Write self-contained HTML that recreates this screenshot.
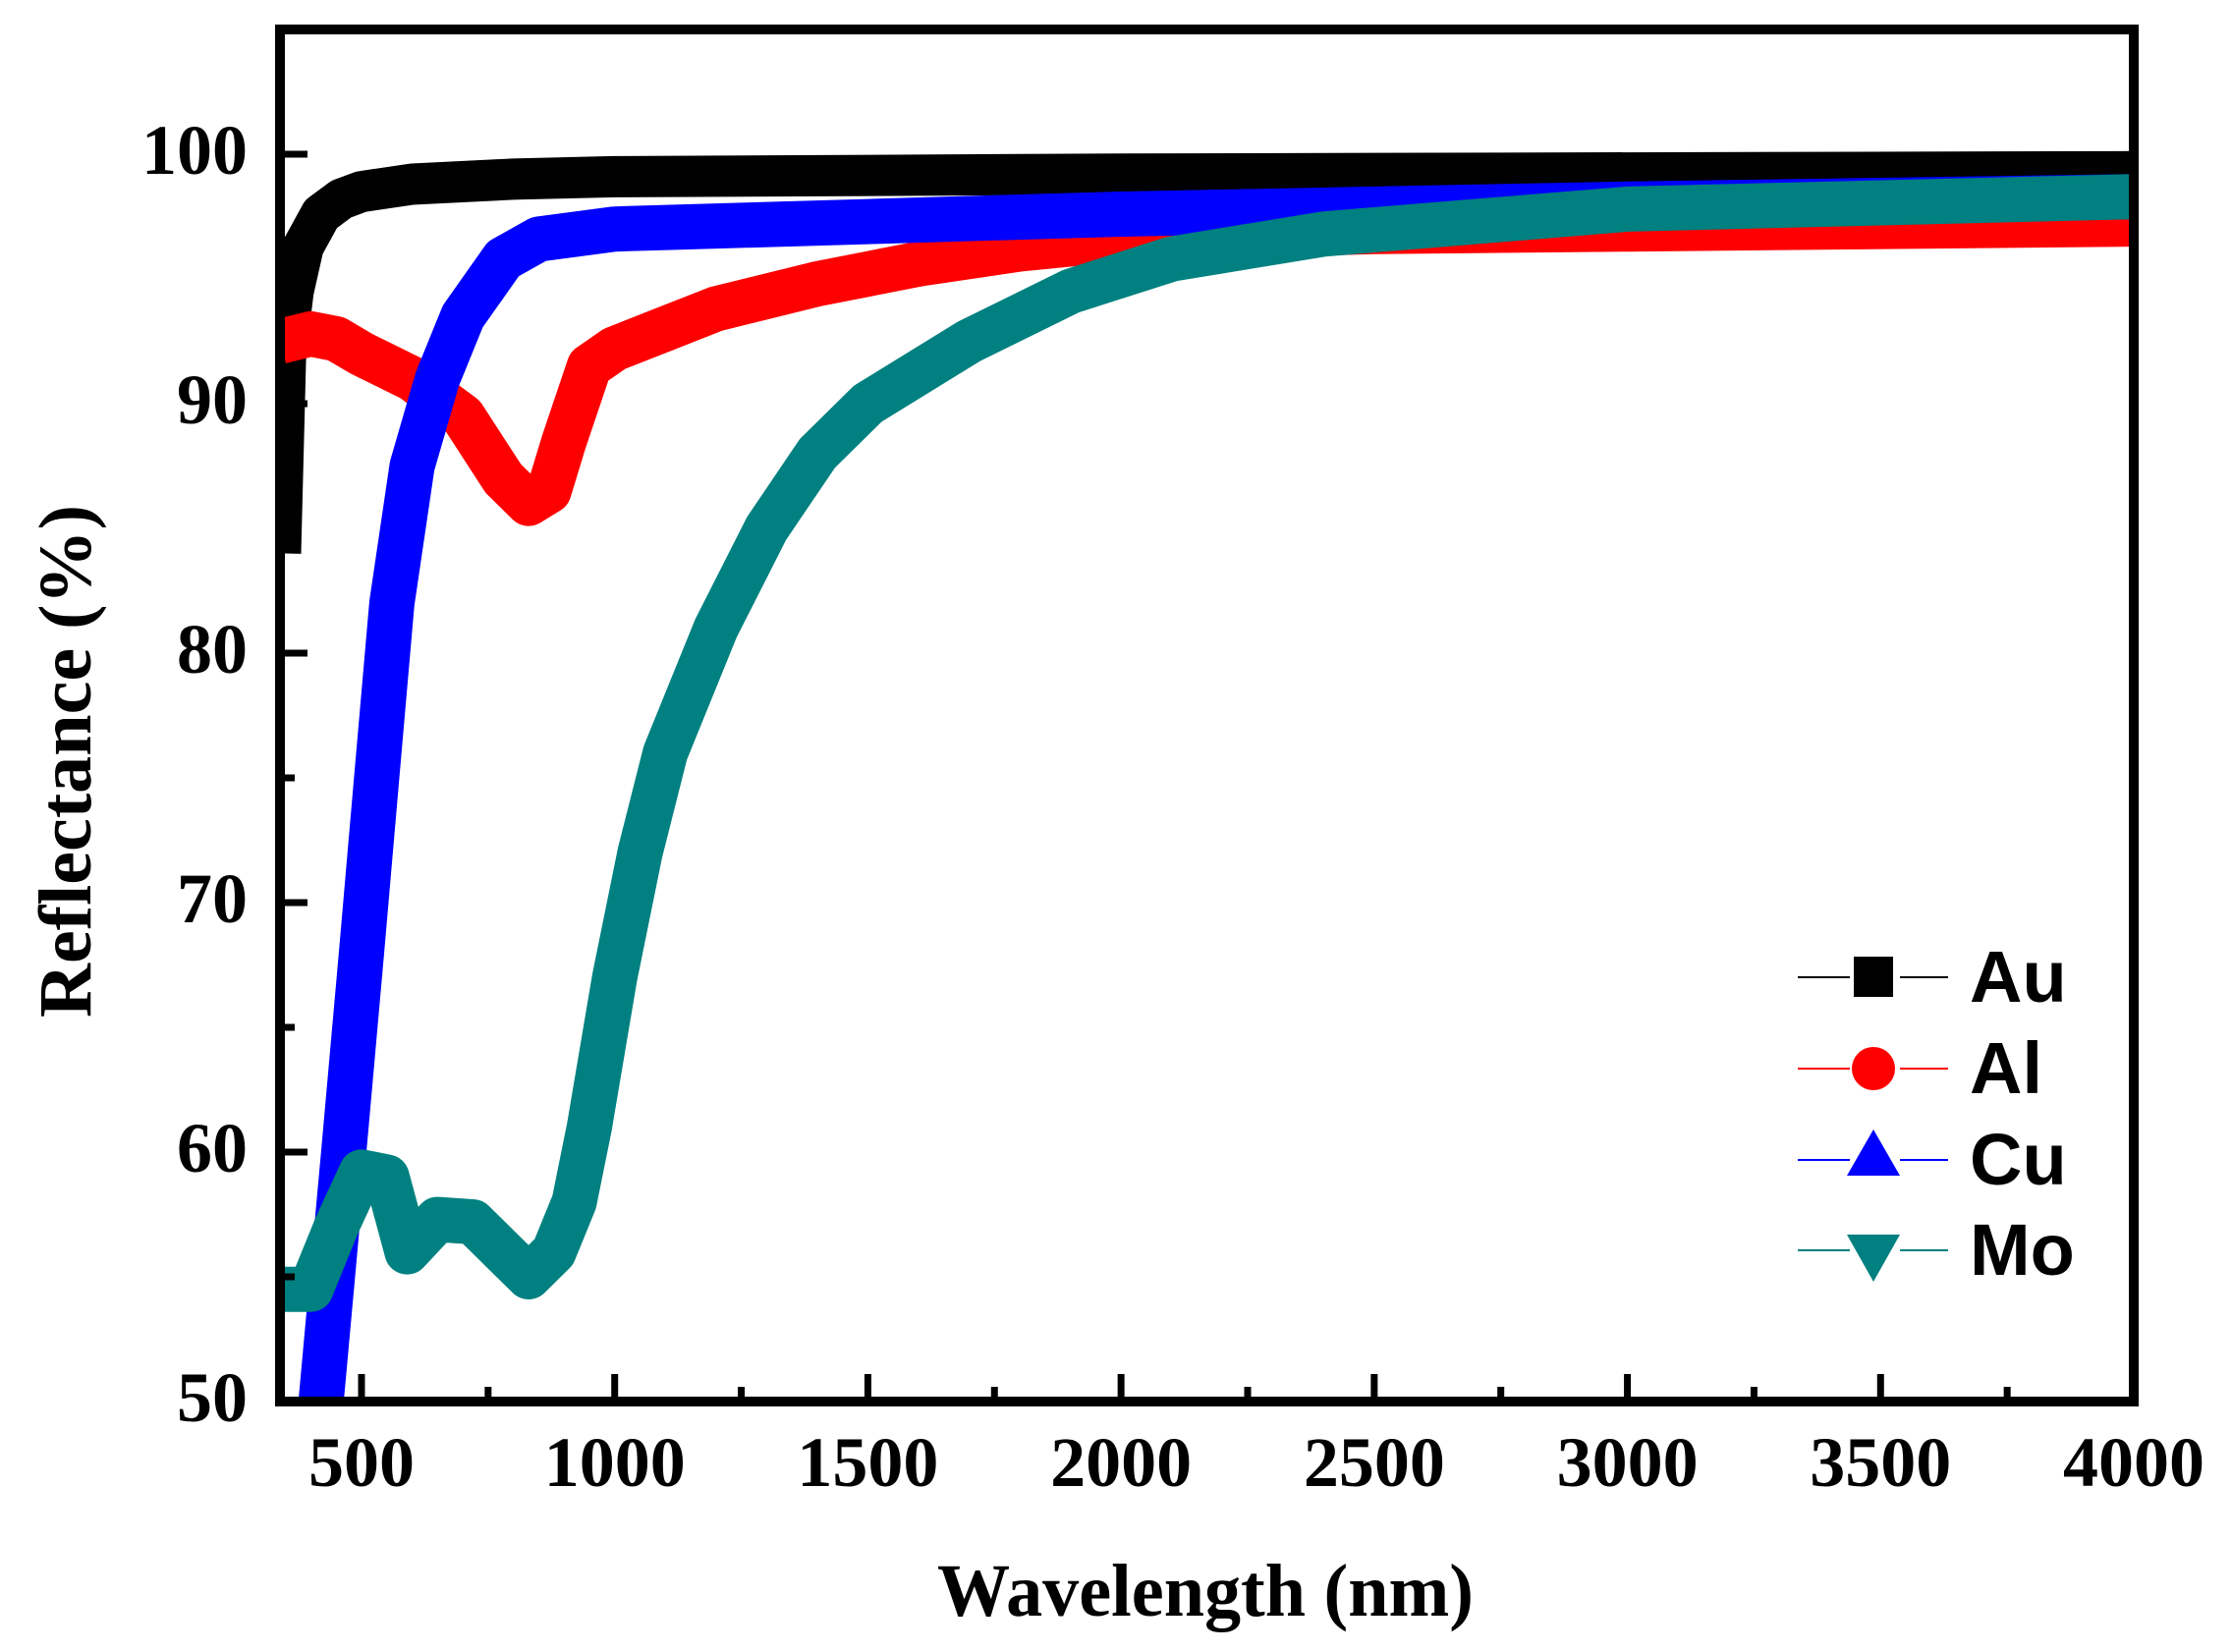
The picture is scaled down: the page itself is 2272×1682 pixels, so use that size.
<!DOCTYPE html>
<html><head><meta charset="utf-8"><style>
html,body{margin:0;padding:0;background:#fff}
svg{display:block}
.tick{font-family:"Liberation Serif",serif;font-weight:bold;font-size:72px;fill:#000}
.leg{font-family:"Liberation Sans",sans-serif;font-weight:bold;font-size:74px;fill:#000}
</style></head><body>
<svg id="chart" width="2272" height="1682" viewBox="0 0 2272 1682" xmlns="http://www.w3.org/2000/svg">
<rect width="2272" height="1682" fill="#fff"/>
<g id="series"></g>
<g id="axes"></g>
<text x="1227" y="1645" text-anchor="middle" textLength="546" lengthAdjust="spacingAndGlyphs" style="font-family:'Liberation Serif',serif;font-weight:bold;font-size:76px">Wavelength (nm)</text>
<text transform="translate(92,775) rotate(-90)" text-anchor="middle" textLength="522" lengthAdjust="spacingAndGlyphs" style="font-family:'Liberation Serif',serif;font-weight:bold;font-size:76px">Reflectance (%)</text>
<g id="legend"></g>
</svg>
<script>
const xTicks=[500,1000,1500,2000,2500,3000,3500,4000];
const xTickLabels=["500","1000","1500","2000","2500","3000","3500","4000"];
const yTicks=[50,60,70,80,90,100];
const yTickLabels=["50","60","70","80","90","100"];
const seriesNames=["Au","Al","Cu","Mo"];
const seriesColors=["#000000","#ff0000","#0000ff","#008080"];
const auX=[340,350,365,385,420,460,500,600,800,1000,2000,4000];
const auY=[84,92,94.5,96.3,97.6,98.2,98.5,98.8,99.0,99.1,99.2,99.3];
const alX=[340,400,450,500,600,700,780,830,870,900,950,1000,1100,1200,1400,1600,1800,2000,2500,3000,4000];
const alY=[92.5,92.8,92.6,92,91,89.5,87,86,86.5,88.5,91.5,92.2,93,93.8,94.8,95.6,96.2,96.6,96.9,97,97.2];
const cuX=[420,465,500,530,560,600,650,700,780,850,1000,1500,2000,3000,4000];
const cuY=[50,60,68,75,82,87.5,91,93.5,95.8,96.6,97.0,97.3,97.6,98.0,98.3];
const moX=[340,400,450,500,550,590,650,720,780,830,880,920,950,1000,1050,1100,1200,1300,1400,1500,1700,1900,2100,2400,3000,4000];
const moY=[54.5,54.5,57,59.2,59,56,57.3,57.2,56,55,56,58,61,67,72,76,81,85,88,90,92.5,94.5,95.8,96.8,97.8,98.3];

const L=285,R=2172,T=30,B=1427;
const xMin=339,xMax=4000,yMin=50,yMax=105;
function sx(v){return L+(v-xMin)/(xMax-xMin)*(R-L);}
function sy(v){return B-(v-yMin)/(yMax-yMin)*(B-T);}
const NS="http://www.w3.org/2000/svg";
function mk(tag,attrs,parent){const e=document.createElementNS(NS,tag);for(const k in attrs)e.setAttribute(k,attrs[k]);parent.appendChild(e);return e;}

const sg=document.getElementById('series');
const clip=mk('clipPath',{id:'pc'},sg);
mk('rect',{x:L,y:T,width:R-L,height:B-T},clip);
const data=[[auX,auY],[alX,alY],[cuX,cuY],[moX,moY]];
const widths=[42,46,46,46];
const order=[0,1,2,3];
order.forEach(i=>{
  const [xs,ys]=data[i];
  const pts=xs.map((x,j)=>sx(x).toFixed(1)+','+sy(ys[j]).toFixed(1)).join(' ');
  const p=mk('polyline',{points:pts,fill:'none',stroke:seriesColors[i],'stroke-width':widths[i],'stroke-linejoin':'round','stroke-linecap':'butt','clip-path':'url(#pc)'},sg);
  
  
});

const ag=document.getElementById('axes');
const frame=mk('rect',{x:L,y:T,width:R-L,height:B-T,fill:'none',stroke:'#000','stroke-width':10},ag);


xTicks.forEach((v,i)=>{
  const x=sx(v);
  const t=mk('line',{x1:x,x2:x,y1:B,y2:B-28,stroke:'#000','stroke-width':7},ag);
  
  
  if(i<xTicks.length-1){const xm=sx(v+250);const m=mk('line',{x1:xm,x2:xm,y1:B,y2:B-15,stroke:'#000','stroke-width':7},ag);
  
  }
  const lb=mk('text',{x:x,y:1513,'text-anchor':'middle',class:'tick',textLength:xTickLabels[i].length*36,lengthAdjust:'spacingAndGlyphs'},ag);
  lb.textContent=xTickLabels[i];
  
  
});
yTicks.forEach((v,i)=>{
  const y=sy(v);
  const t=mk('line',{x1:L,x2:L+28,y1:y,y2:y,stroke:'#000','stroke-width':7},ag);
  
  
  const m=mk('line',{x1:L,x2:L+15,y1:sy(v+5),y2:sy(v+5),stroke:'#000','stroke-width':7},ag);
  
  
  const lb=mk('text',{x:252,y:y+20,'text-anchor':'end',class:'tick',textLength:yTickLabels[i].length*36,lengthAdjust:'spacingAndGlyphs'},ag);
  lb.textContent=yTickLabels[i];
  
  
});

const lg=document.getElementById('legend');
const rows=[995,1088,1181,1273];
seriesNames.forEach((n,i)=>{
  const y=rows[i],c=seriesColors[i],cx=1907;
  const g=mk('g',{},lg);
  
  
  mk('line',{x1:1830,x2:1883,y1:y,y2:y,stroke:c,'stroke-width':2},g);
  mk('line',{x1:1934,x2:1983,y1:y,y2:y,stroke:c,'stroke-width':2},g);
  if(i===0) mk('rect',{x:cx-20,y:y-21,width:40,height:41,fill:c},g);
  if(i===1) mk('circle',{cx:cx,cy:y,r:22,fill:c},g);
  if(i===2) mk('polygon',{points:`${cx},${y-31} ${cx+27},${y+16} ${cx-27},${y+16}`,fill:c},g);
  if(i===3) mk('polygon',{points:`${cx-27},${y-16} ${cx+27},${y-16} ${cx},${y+32}`,fill:c},g);
  const t=mk('text',{x:2005,y:y+25,class:'leg'},g);
  t.textContent=n;
});
</script>
</body></html>
